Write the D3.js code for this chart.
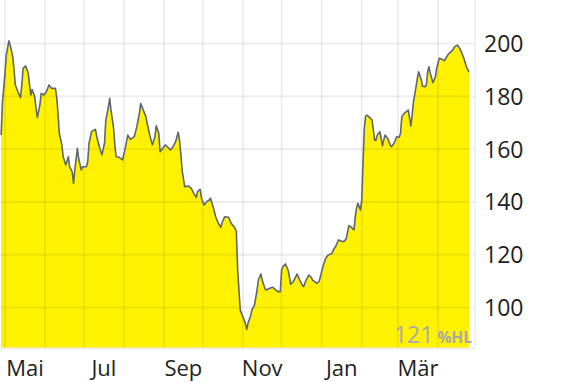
<!DOCTYPE html>
<html>
<head>
<meta charset="utf-8">
<script src="https://cdn.jsdelivr.net/npm/d3@7"></script>
<style>
  body { margin: 0; background: #fff; }
  svg { display: block; font-family: "Open Sans", sans-serif; }
</style>
</head>
<body>
<div class="chart_area"></div>
<script>
var width = 570, height = 382;
var plotW = 475, plotH = 348;

// price data
var dates = [
  "2024-04-28","2024-04-29","2024-05-01","2024-05-02","2024-05-04","2024-05-05","2024-05-07","2024-05-08",
  "2024-05-09","2024-05-11","2024-05-13","2024-05-14","2024-05-15","2024-05-17","2024-05-19","2024-05-20",
  "2024-05-21","2024-05-22","2024-05-24","2024-05-25","2024-05-26","2024-05-28","2024-05-29","2024-05-31",
  "2024-06-02","2024-06-04","2024-06-06","2024-06-09","2024-06-10","2024-06-11","2024-06-12","2024-06-14",
  "2024-06-15","2024-06-17","2024-06-19","2024-06-20","2024-06-22","2024-06-23","2024-06-24","2024-06-26",
  "2024-06-27","2024-06-29","2024-06-30","2024-07-03","2024-07-04","2024-07-05","2024-07-07","2024-07-10",
  "2024-07-11","2024-07-13","2024-07-15","2024-07-17","2024-07-18","2024-07-20","2024-07-21","2024-07-22",
  "2024-07-24","2024-07-25","2024-07-26","2024-07-28","2024-07-31","2024-08-02","2024-08-04","2024-08-06",
  "2024-08-09","2024-08-11","2024-08-13","2024-08-14","2024-08-16","2024-08-18","2024-08-19","2024-08-21",
  "2024-08-23","2024-08-25","2024-08-26","2024-08-28","2024-08-29","2024-08-31","2024-09-02","2024-09-04",
  "2024-09-06","2024-09-08","2024-09-10","2024-09-12","2024-09-13","2024-09-14","2024-09-15","2024-09-17",
  "2024-09-20","2024-09-22","2024-09-24","2024-09-26","2024-09-27","2024-09-29","2024-09-30","2024-10-02",
  "2024-10-04","2024-10-06","2024-10-07","2024-10-09","2024-10-11","2024-10-13","2024-10-15","2024-10-16",
  "2024-10-18","2024-10-21","2024-10-23","2024-10-26","2024-10-27","2024-10-28","2024-10-30","2024-11-01",
  "2024-11-03","2024-11-04","2024-11-05","2024-11-07","2024-11-08","2024-11-10","2024-11-12","2024-11-13",
  "2024-11-15","2024-11-16","2024-11-18","2024-11-19","2024-11-22","2024-11-24","2024-11-26","2024-11-28",
  "2024-11-30","2024-12-01","2024-12-02","2024-12-04","2024-12-06","2024-12-07","2024-12-08","2024-12-10",
  "2024-12-12","2024-12-13","2024-12-15","2024-12-17","2024-12-18","2024-12-20","2024-12-22","2024-12-24",
  "2024-12-25","2024-12-28","2024-12-30","2024-12-31","2025-01-02","2025-01-04","2025-01-06","2025-01-09",
  "2025-01-10","2025-01-12","2025-01-14","2025-01-16","2025-01-18","2025-01-20","2025-01-22","2025-01-24",
  "2025-01-26","2025-01-27","2025-01-28","2025-01-29","2025-01-30","2025-01-31","2025-02-01","2025-02-02",
  "2025-02-03","2025-02-04","2025-02-05","2025-02-07","2025-02-09","2025-02-10","2025-02-11","2025-02-12",
  "2025-02-13","2025-02-15","2025-02-16","2025-02-17","2025-02-18","2025-02-19","2025-02-21","2025-02-23",
  "2025-02-24","2025-02-26","2025-02-28","2025-03-02","2025-03-03","2025-03-04","2025-03-06","2025-03-08",
  "2025-03-09","2025-03-11","2025-03-12","2025-03-13","2025-03-15","2025-03-16","2025-03-17","2025-03-19",
  "2025-03-20","2025-03-22","2025-03-23","2025-03-24","2025-03-25","2025-03-26","2025-03-28","2025-03-30",
  "2025-03-31","2025-04-02","2025-04-04","2025-04-06","2025-04-07","2025-04-09","2025-04-12","2025-04-14",
  "2025-04-16","2025-04-17","2025-04-19","2025-04-21","2025-04-23","2025-04-25"
];
var prices = [
  165.3,177.5,188.8,195.6,201,199.4,195,190,
  184.3,181.7,179.5,184.3,190.6,191.5,188.7,184.3,
  180.5,182.6,179.8,175.6,171.9,176.7,181.1,180.5,
  181.7,184.3,183,183,179.8,173.6,166,161.6,
  157.1,154,157.1,153.3,151.4,147,152.1,160.3,
  156.5,152.1,153.3,153.3,155.2,162.2,166.6,167.5,
  164.7,160.9,157.8,162.2,171,176,179.2,174.8,
  168,161.6,157.1,157,155.9,160.3,165.3,163.7,
  164.7,168.5,173.6,177.3,174.8,172.3,169.8,165.3,
  161.6,164.7,168.8,166,159,160.3,161.6,160.7,
  159.7,160.9,162.8,166.4,163.4,158.4,152.1,145.8,
  146,145.2,143.3,141.7,143.9,144.8,141.4,138.8,
  140.1,140.7,141.4,138.2,134.4,131.9,130.4,132.2,
  134.4,134.2,131.9,130,128.7,114.2,99.1,96.5,
  94,91.7,94,96.8,99.1,100.9,106.6,110.4,
  112.7,110.4,107.3,106.6,107.3,107.7,106.9,106,
  106,114.2,115.5,116.5,114.2,111.7,108.8,109.8,
  111.7,112.7,110.4,108.5,107.9,110.4,112.3,111.4,
  110.4,109.2,109.8,111.7,115.5,118.6,119.9,120.5,
  121.8,123.3,125.6,125.2,124.9,126,131,130.4,
  129.4,134.4,137.6,139.5,138.2,136.9,140.7,155,
  168,172.5,172.9,172,171,167.2,163.4,163.4,
  165.3,166.6,164.1,161.2,163.4,165.3,164.1,161.6,
  160.9,162.2,164.7,164.5,166,172.3,173.6,174.4,
  174.8,168.8,172.9,177.9,183.6,186.8,189.3,186.4,
  183.9,183.6,184.3,189.3,191.2,188.7,185.2,187.4,
  190.6,194.4,194,193.5,194.4,196,197.3,198.8,
  199.4,198.8,196.9,194.4,191.2,189.1
];

var yTicks = [100, 120, 140, 160, 180, 200];
var labelMonths = ["2024-05", "2024-07", "2024-09", "2024-11", "2025-01", "2025-03"];
var monthLabels = ["Mai", "Jul", "Sep", "Nov", "Jan", "Mär"];
var badgeValue = "121";
var badgeUnit = "%HL";

var parseDay = d3.timeParse("%Y-%m-%d");
var parseMonth = d3.timeParse("%Y-%m");

var data = dates.map(function (d, i) {
    return { date: parseDay(d), value: prices[i] };
});

var svg = d3.select(".chart_area")
    .append("svg")
    .attr("width", width)
    .attr("height", height);

svg.append("rect")
    .attr("width", width)
    .attr("height", height)
    .attr("fill", "#fff");

var x = d3.scaleTime()
    .domain([new Date(2024, 4, 1), new Date(2025, 3, 1)])
    .range([5, 438]);

var y = d3.scaleLinear()
    .domain([100, 200])
    .range([307.5, 43.5]);

// area
var area = d3.area()
    .x(function (d) { return x(d.date); })
    .y0(plotH)
    .y1(function (d) { return y(d.value); });

svg.append("path")
    .datum(data)
    .attr("fill", "#fff200")
    .attr("d", area);

// grid
var months = d3.timeMonth.range(new Date(2024, 4, 1), new Date(2025, 4, 1));

svg.append("g")
    .selectAll("line")
    .data(months)
    .enter()
    .append("line")
    .attr("x1", function (d) { return x(d); })
    .attr("x2", function (d) { return x(d); })
    .attr("y1", 0)
    .attr("y2", plotH)
    .attr("stroke", "rgba(0,0,0,0.065)")
    .attr("stroke-width", 2);

svg.append("g")
    .selectAll("line")
    .data(yTicks)
    .enter()
    .append("line")
    .attr("x1", 0)
    .attr("x2", plotW)
    .attr("y1", function (d) { return y(d); })
    .attr("y2", function (d) { return y(d); })
    .attr("stroke", "rgba(0,0,0,0.065)")
    .attr("stroke-width", 2);

// frame (right + bottom)
svg.append("line")
    .attr("x1", plotW).attr("x2", plotW)
    .attr("y1", 0).attr("y2", plotH + 1)
    .attr("stroke", "#ececec")
    .attr("stroke-width", 1.5);

svg.append("line")
    .attr("x1", 0).attr("x2", plotW)
    .attr("y1", plotH + 0.5).attr("y2", plotH + 0.5)
    .attr("stroke", "#ececec")
    .attr("stroke-width", 2);

// price line
var line = d3.line()
    .x(function (d) { return x(d.date); })
    .y(function (d) { return y(d.value); });

svg.append("path")
    .datum(data)
    .attr("fill", "none")
    .attr("stroke", "#5f666e")
    .attr("stroke-width", 1.6)
    .attr("stroke-linejoin", "round")
    .attr("d", line);

// y labels
svg.append("g")
    .selectAll("text")
    .data(yTicks)
    .enter()
    .append("text")
    .attr("x", 484)
    .attr("y", function (d) { return y(d); })
    .attr("dy", "0.37em")
    .style("font-size", "23px")
    .style("fill", "#222")
    .text(function (d) { return d; });

// x labels, centred in their month
svg.append("g")
    .selectAll("text")
    .data(labelMonths)
    .enter()
    .append("text")
    .attr("x", function (d) {
        var m0 = parseMonth(d), m1 = d3.timeMonth.offset(m0, 1);
        return (x(m0) + x(m1)) / 2;
    })
    .attr("y", 376)
    .attr("text-anchor", "middle")
    .style("font-size", "22px")
    .style("fill", "#222")
    .text(function (d, i) { return monthLabels[i]; });

// badge
var badge = svg.append("text")
    .attr("x", 472)
    .attr("y", 343)
    .attr("text-anchor", "end")
    .style("fill", "#a9a9a9");

badge.append("tspan")
    .style("font-size", "23px")
    .text(badgeValue);

badge.append("tspan")
    .attr("dx", 4)
    .style("font-size", "15.5px")
    .style("font-weight", "bold")
    .text(badgeUnit);
</script>
</body>
</html>
